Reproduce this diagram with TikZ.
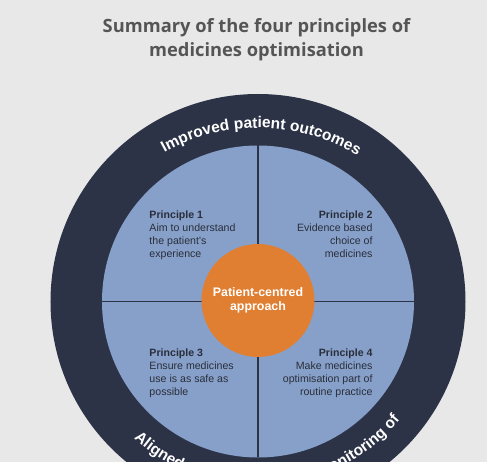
\documentclass[tikz,border=0pt]{standalone}
\usepackage{fontspec}
\setmainfont{Liberation Sans}
\newfontfamily\titlefont{Open Sans}
\usetikzlibrary{decorations.text}
\definecolor{bgGrey}{HTML}{E8E8E8}
\definecolor{ringNavy}{HTML}{2D3347}
\definecolor{quadBlue}{HTML}{86A0C9}
\definecolor{coreOrange}{HTML}{E07F31}
\definecolor{titleGrey}{HTML}{555555}
\definecolor{bodyText}{HTML}{2A2E3A}

\begin{document}
\begin{tikzpicture}[x=1pt, y=1pt,
    principle/.style={inner sep=0pt, text=bodyText, font=\fontsize{10.6}{13.1}\selectfont},
    divider/.style={ringNavy, line width=1.2pt},
    ringtext/.style={decorate, decoration={text along path, text color=white,
        text align=center, text={|\bfseries\fontsize{15.5}{18}\selectfont|#1}}}]

    % ---- Background ----
    \useasboundingbox (-258,-160.5) rectangle (229,301.5);
    \fill[bgGrey] (-258,-160.5) rectangle (229,301.5);
    \clip (-258,-160.5) rectangle (229,301.5);

    % Title (base anchor sits on the last line)
    \node[text=titleGrey, align=center, inner sep=0pt, anchor=base,
          font=\titlefont\bfseries\fontsize{18.3}{24}\selectfont] (title) at (-1.5,244.5)
        {Summary of the four principles of\\medicines optimisation};

    % ---- Outer ring and quadrants ----
    \fill[ringNavy] (0,0) circle (207.5pt);
    \fill[quadBlue] (0,0) circle (156pt);
    \draw[divider] (-156,0) -- (156,0);
    \draw[divider] (0,156) -- (0,-156);

    % Ring labels
    \path[ringtext={Improved patient outcomes}]
        ([shift={(149:192pt)}]0,-18.5) arc[start angle=149, end angle=29, radius=192pt];
    \path[ringtext={Aligned measurement and monitoring of}]
        (204:185pt) arc[start angle=204, end angle=344, radius=185pt];

    % ---- Centre ----
    \node[circle, fill=coreOrange, minimum size=113pt, inner sep=0pt, text=white,
          align=center, font=\bfseries\fontsize{12.4}{14.5}\selectfont] (core) at (0,1)
        {Patient-centred\\approach};

    % ---- Principles ----
    \node[principle, anchor=base west, align=left] (p1) at (-108.7,43.8)
        {\textbf{Principle 1}\\Aim to understand\\the patient's\\experience};
    \node[principle, anchor=base east, align=right] (p2) at (114.7,43.8)
        {\textbf{Principle 2}\\Evidence based\\choice of\\medicines};
    \node[principle, anchor=base west, align=left] (p3) at (-108.7,-94.2)
        {\textbf{Principle 3}\\Ensure medicines\\use is as safe as\\possible};
    \node[principle, anchor=base east, align=right] (p4) at (114.7,-94.2)
        {\textbf{Principle 4}\\Make medicines\\optimisation part of\\routine practice};
\end{tikzpicture}
\end{document}
